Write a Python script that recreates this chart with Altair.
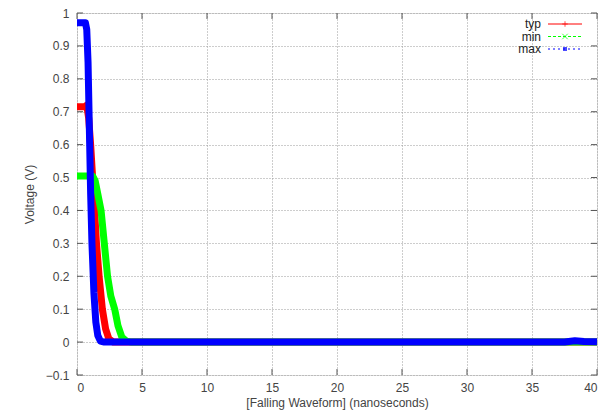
import altair as alt
import pandas as pd

# typ (red)
typ_x = [0, 0.6, 0.75, 0.9, 1.05, 1.2, 1.35, 1.5, 1.7, 1.95, 2.2, 2.45, 2.8, 40]
typ_y = [0.715, 0.715, 0.72, 0.68, 0.6, 0.5, 0.4, 0.3, 0.2, 0.1, 0.04, 0.01, 0, 0]
# min (green)
min_x = [0, 1.2, 1.4, 1.6, 1.85, 2.1, 2.35, 2.6, 2.9, 3.15, 3.45, 3.8, 4.2, 40]
min_y = [0.505, 0.505, 0.49, 0.45, 0.4, 0.3, 0.2, 0.14, 0.1, 0.05, 0.015, 0.003, 0, 0]
# max (blue)
max_x = [0, 0.65, 0.75, 0.85, 0.95, 1.05, 1.15, 1.3, 1.45, 1.6, 1.8, 2.1, 37.5, 38.3, 39, 40]
max_y = [0.97, 0.97, 0.95, 0.85, 0.65, 0.45, 0.3, 0.15, 0.06, 0.02, 0.003, 0, 0, 0.004, 0.002, 0.001]

x_ticks = [0, 5, 10, 15, 20, 25, 30, 35, 40]
y_ticks = [-0.1, 0, 0.1, 0.2, 0.3, 0.4, 0.5, 0.6, 0.7, 0.8, 0.9, 1]

series = [("typ", typ_x, typ_y, "#ff0000"), ("min", min_x, min_y, "#00ff00"), ("max", max_x, max_y, "#0000ff")]

rows = []
for i, (name, xs, ys, _) in enumerate(series):
    for j, (a, b) in enumerate(zip(xs, ys)):
        rows.append({"series": name, "order": i, "idx": j, "t": a, "v": b})
df = pd.DataFrame(rows)

FONT = "Liberation Sans"
GREY = "#444444"
W, H = 520, 362

xscale = alt.Scale(domain=[0, 40], nice=False, zero=False)
yscale = alt.Scale(domain=[-0.1, 1], nice=False, zero=False)

xaxis = alt.Axis(values=x_ticks, title="[Falling Waveform] (nanoseconds)", grid=True,
                 gridColor="#9a9a9a", gridDash=[1, 2], gridWidth=1,
                 tickSize=0, labelPadding=7, labelFontSize=12, labelColor=GREY,
                 labelFont=FONT, titleFont=FONT, titleFontSize=12, titleFontWeight="normal",
                 titleColor=GREY, titlePadding=4, domain=False)
yaxis = alt.Axis(values=y_ticks, title="Voltage (V)", grid=True,
                 gridColor="#9a9a9a", gridDash=[1, 2], gridWidth=1,
                 tickSize=0, labelPadding=8, labelFontSize=12, labelColor=GREY,
                 labelFont=FONT, titleFont=FONT, titleFontSize=12, titleFontWeight="normal",
                 titleColor=GREY, titlePadding=9, domain=False,
                 labelExpr="datum.value == 0 ? '0' : format(datum.value, '.1~f')")

layers = []
# inward tick marks on all four sides
xt = pd.DataFrame({"t": x_ticks})
yt = pd.DataFrame({"v": y_ticks})
for y0, y1 in [(H, H - 6), (0, 6)]:
    layers.append(alt.Chart(xt).mark_rule(color="#555555", strokeWidth=1).encode(
        x=alt.X("t:Q", scale=xscale, axis=xaxis), y=alt.value(y0), y2=alt.value(y1)))
for x0, x1 in [(0, 6), (W, W - 6)]:
    layers.append(alt.Chart(yt).mark_rule(color="#555555", strokeWidth=1).encode(
        y=alt.Y("v:Q", scale=yscale, axis=yaxis), x=alt.value(x0), x2=alt.value(x1)))

for i, (name, xs, ys, col) in enumerate(series):
    sub = df[df.series == name]
    line = alt.Chart(sub).mark_line(color=col, strokeWidth=7, clip=True, strokeJoin="round").encode(
        x=alt.X("t:Q", scale=xscale, axis=xaxis),
        y=alt.Y("v:Q", scale=yscale, axis=yaxis),
        order="idx:Q",
    )
    layers.append(line)

# legend
PLUS = "M-1,0L1,0M0,-1L0,1"
XSHAPE = "M-1,-1L1,1M-1,1L1,-1"
leg_names = ["typ", "min", "max"]
leg_colors = ["#ff0000", "#00ff00", "#0000ff"]
leg_dash = [[1, 0], [3, 2], [2, 3]]
leg_shapes = [PLUS, XSHAPE, "square"]
for k, (nm, col, dash, shp) in enumerate(zip(leg_names, leg_colors, leg_dash, leg_shapes)):
    yy = 11 + 12.5 * k
    d = pd.DataFrame({"label": [nm]})
    layers.append(alt.Chart(d).mark_text(
        align="right", baseline="middle", font=FONT, fontSize=12, color="#222222").encode(
        x=alt.value(464), y=alt.value(yy), text="label:N"))
    layers.append(alt.Chart(d).mark_rule(
        color=col, strokeWidth=1, strokeDash=dash).encode(
        x=alt.value(471), x2=alt.value(505), y=alt.value(yy)))
    layers.append(alt.Chart(d).mark_point(
        color=col, shape=shp, size=30 if k < 2 else 16, filled=(k == 2),
        strokeWidth=1).encode(
        x=alt.value(488), y=alt.value(yy)))

chart = alt.layer(*layers).properties(
    width=W, height=H,
    autosize=alt.AutoSizeParams(type="none"),
    padding={"left": 77, "top": 13, "right": 11, "bottom": 40},
).configure_view(stroke="#555555", strokeWidth=1.2).configure(background="white")

chart.save("out.html", embed_options={"renderer": "svg", "actions": False})
